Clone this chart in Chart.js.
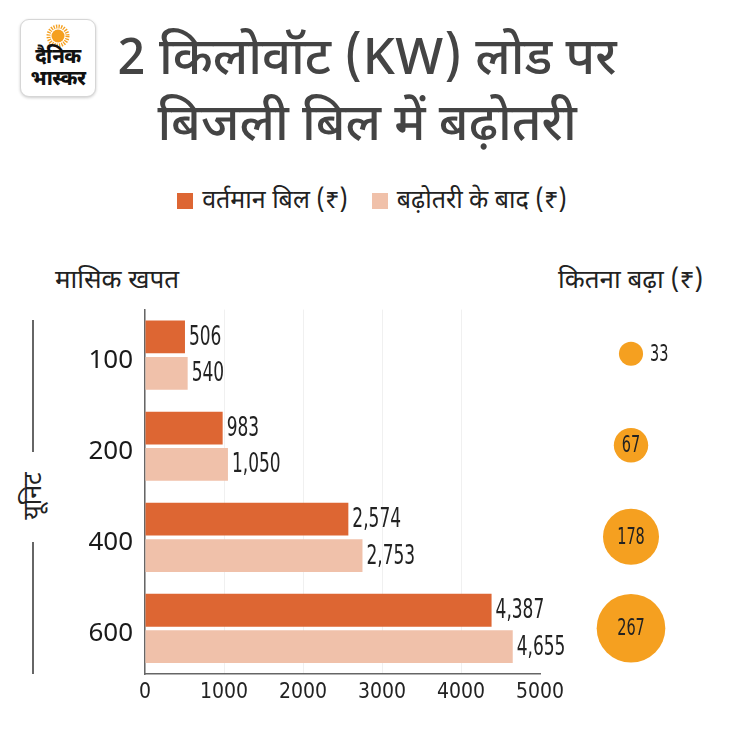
<!DOCTYPE html>
<html>
<head>
<meta charset="utf-8">
<script src="https://cdn.jsdelivr.net/npm/chart.js@4.4.1/dist/chart.umd.min.js"></script>
<style>
  body { margin: 0; background: #fff; }
  #page {
    position: relative; width: 730px; height: 747px; overflow: hidden;
    font-family: "Noto Sans Devanagari", "Noto Sans", sans-serif; color: #222;
  }
  .logo {
    position: absolute; left: 20px; top: 19px; width: 74px; height: 76px;
    border: 1px solid #d6d6d6; border-radius: 9px; box-shadow: 0 1px 3px rgba(0,0,0,0.2);
    text-align: center; background: #fff;
  }
  .logo svg { position: absolute; left: 25px; top: 4px; }
  .logo .l1, .logo .l2 { position: absolute; left: 0; width: 100%; font-weight: 800; color: #111; font-size: 20px; line-height: 20px; letter-spacing: -0.5px; }
  .logo .l1 { top: 28px; }
  .logo .l2 { top: 50px; }
  .title {
    position: absolute; left: 0; top: 29px; width: 734px; text-align: center;
    font-size: 51px; font-weight: 500; line-height: 66px; color: #444;
  }
  .legend {
    position: absolute; left: 0; top: 185px; width: 744px; text-align: center; font-size: 25px; line-height: 34px; color: #222;
  }
  .legend span.sw { display: inline-block; width: 16px; height: 16px; vertical-align: -1px; margin-right: 9px; }
  .legend span.item { margin: 0 12px; }
  .hdr { position: absolute; top: 265px; font-size: 26px; line-height: 34px; color: #222; }
  .unit-line { position: absolute; left: 32px; width: 2px; background: #666; }
  .unit-text {
    position: absolute; left: 35px; top: 496px; font-size: 25px; line-height: 30px; color: #222;
    transform: translate(-50%, -50%) rotate(-90deg); white-space: nowrap;
  }
  #bars { position: absolute; left: 0; top: 290px; }
  #bubbles { position: absolute; left: 576px; top: 290px; }
</style>
</head>
<body>
<div id="page">
  <div class="logo">
    <svg width="24" height="24" viewBox="-12 -12 24 24">
      <circle r="6.5" fill="#f5a020"/>
      <circle r="9.5" fill="none" stroke="#f5a020" stroke-width="4" stroke-dasharray="1.3 1.2"/>
    </svg>
    <div class="l1">दैनिक</div>
    <div class="l2">भास्कर</div>
  </div>
  <div class="title">2 किलोवॉट (KW) लोड पर<br>बिजली बिल में बढ़ोतरी</div>
  <div class="legend" id="legend"></div>
  <div class="hdr" style="left:55px">मासिक खपत</div>
  <div class="hdr" style="left:558px">कितना बढ़ा (₹)</div>
  <div class="unit-line" style="top:320px;height:132px"></div>
  <div class="unit-text">यूनिट</div>
  <div class="unit-line" style="top:542px;height:132px"></div>
  <canvas id="bars" width="580" height="430"></canvas>
  <canvas id="bubbles" width="110" height="430"></canvas>
</div>
<script>
const units = ["100", "200", "400", "600"];
const currentBill = [506, 983, 2574, 4387];
const revisedBill = [540, 1050, 2753, 4655];
const increase = [33, 67, 178, 267];
const seriesNames = ["वर्तमान बिल (₹)", "बढ़ोतरी के बाद (₹)"];
const xTickValues = [0, 1000, 2000, 3000, 4000, 5000];

const darkOrange = "#dd6633";
const lightPeach = "#f0c1aa";
const bubbleOrange = "#f5a020";
const narrow = "'Liberation Sans Narrow', 'DejaVu Sans Condensed', sans-serif";

// legend in html, from the series names
document.getElementById("legend").innerHTML = seriesNames.map((name, i) =>
  '<span class="item"><span class="sw" style="background:' + [darkOrange, lightPeach][i] + '"></span>' + name + '</span>'
).join("");

// squeezed number text, like the condensed face in the original
function narrowText(ctx, text, x, y, size, align) {
  ctx.save();
  ctx.font = size + "px " + narrow;
  ctx.fillStyle = "#222";
  ctx.textBaseline = "middle";
  ctx.textAlign = align;
  ctx.translate(x, y);
  ctx.scale(0.7, 1);
  ctx.fillText(text, 0, 0);
  ctx.restore();
}

const barValueLabels = {
  id: "barValueLabels",
  afterDatasetsDraw(chart) {
    const ctx = chart.ctx;
    chart.data.datasets.forEach((ds, i) => {
      chart.getDatasetMeta(i).data.forEach((bar, j) => {
        narrowText(ctx, ds.data[j].toLocaleString("en-US"), bar.x + 4, bar.y + 1, 27, "left");
      });
    });
  }
};

new Chart(document.getElementById("bars"), {
  type: "bar",
  data: {
    labels: units,
    datasets: [
      { label: seriesNames[0], data: currentBill, backgroundColor: darkOrange },
      { label: seriesNames[1], data: revisedBill, backgroundColor: lightPeach },
    ],
  },
  options: {
    indexAxis: "y",
    responsive: false,
    animation: false,
    categoryPercentage: 0.8,
    barPercentage: 0.9,
    layout: { padding: { top: 8, right: 40, left: 0, bottom: 0 } },
    plugins: { legend: { display: false }, tooltip: { enabled: false } },
    scales: {
      x: {
        min: 0,
        max: 5000,
        afterBuildTicks: (scale) => { scale.ticks = xTickValues.map((v) => ({ value: v })); },
        afterFit: (scale) => { scale.height = 46; },
        ticks: { font: { family: narrow, size: 21 }, color: "#222", padding: 6, callback: (v) => String(v) },
        grid: { color: (c) => (c.tick && c.tick.value === 5000 ? "rgba(0,0,0,0)" : "#f0f0f0"), drawTicks: false },
        border: { color: "#666", width: 1.5 },
      },
      y: {
        afterFit: (scale) => { scale.width = 145; },
        ticks: { font: { family: "Noto Sans", size: 26 }, color: "#1a1a1a", padding: 4, labelOffset: 5 },
        grid: { display: false },
        border: { color: "#666", width: 1.5 },
      },
    },
  },
  plugins: [barValueLabels],
});

const bubbleLabels = {
  id: "bubbleLabels",
  afterDatasetsDraw(chart) {
    const ctx = chart.ctx;
    chart.getDatasetMeta(0).data.forEach((pt, j) => {
      const r = pt.options.radius;
      if (r < 15) narrowText(ctx, String(increase[j]), pt.x + r + 7, pt.y + 1, 23, "left");
      else narrowText(ctx, String(increase[j]), pt.x, pt.y + 1, 23, "center");
    });
  }
};

new Chart(document.getElementById("bubbles"), {
  type: "bubble",
  data: {
    labels: units,
    datasets: [{
      data: increase.map((v, i) => ({ x: 1, y: units[i] })),
      backgroundColor: bubbleOrange,
      borderWidth: 0,
      radius: (c) => 2.1 * Math.sqrt(increase[c.dataIndex]),
      clip: false,
    }],
  },
  options: {
    responsive: false,
    animation: false,
    layout: { autoPadding: false, padding: { top: 18, bottom: 46, left: 0, right: 0 } },
    plugins: { legend: { display: false }, tooltip: { enabled: false } },
    scales: {
      x: { display: false, min: 0, max: 2 },
      y: { type: "category", labels: units, offset: true, display: false },
    },
  },
  plugins: [bubbleLabels],
});
</script>
</body>
</html>
